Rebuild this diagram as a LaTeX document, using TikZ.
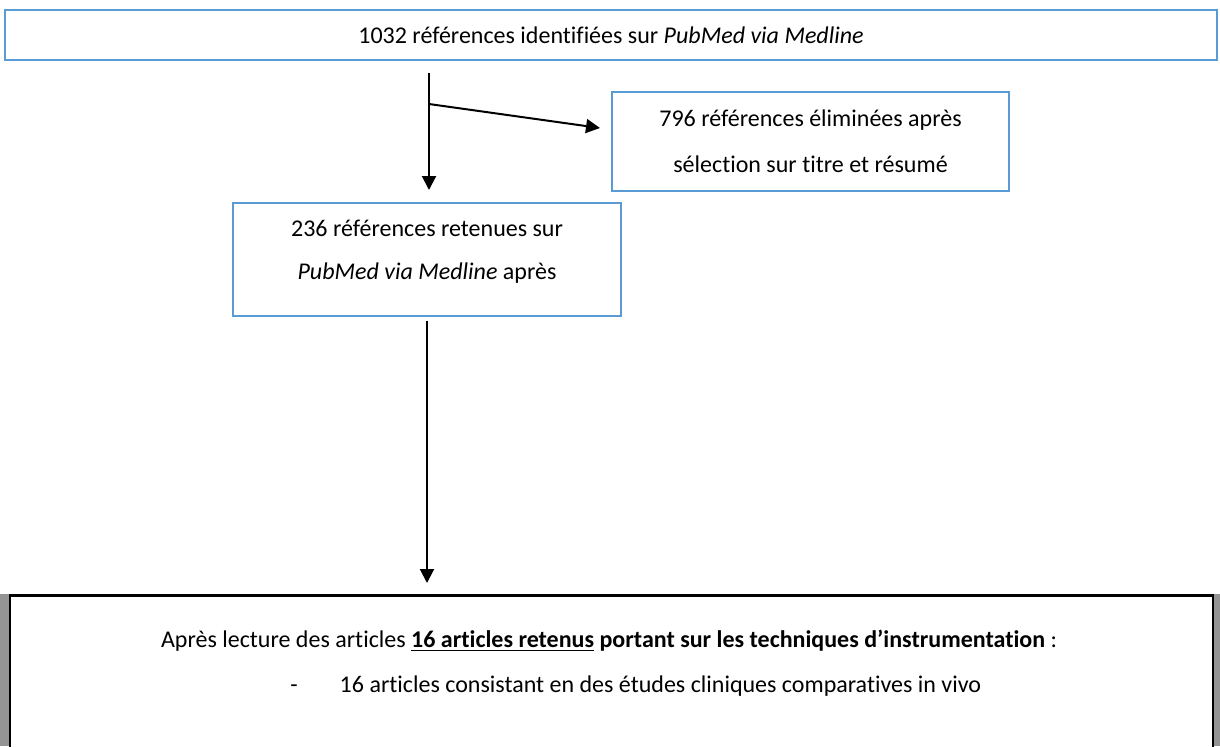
\documentclass[tikz,border=0pt]{standalone}
\usepackage{fontspec}
\setmainfont{Carlito}[Ligatures={TeX,NoCommon}]
\usetikzlibrary{arrows.meta,positioning}
\definecolor{BoxBlue}{HTML}{5B9BD5}
\colorlet{ShadowGray}{black!42}

\begin{document}
\begin{tikzpicture}[x=0.5pt,y=-0.5pt,
    bluebox/.style={draw=BoxBlue,line width=1pt,align=center,inner sep=0pt,
        font=\fontsize{12}{23}\selectfont},
    flow/.style={line width=1pt,-{Triangle[length=7pt,width=7pt]}}]
  \clip (0,0) rectangle (1220,746);
%  boxes
  \node[bluebox,minimum width=606pt,minimum height=25pt] (refs) at (611,35)
    {1032 références identifiées sur \textit{PubMed via Medline}};
  \node[bluebox,minimum width=198.5pt,minimum height=49.5pt] (removed) at (810.5,141.5)
    {796 références éliminées après\\sélection sur titre et résumé};
  \node[bluebox,minimum width=194pt,minimum height=56.5pt,
        font=\fontsize{12}{21.5}\selectfont] (kept) at (427,259.5) {};
  \node[inner sep=0pt,align=center,font=\fontsize{12}{21.5}\selectfont]
    (keptText) at (427,251.5)
    {236 références retenues sur\\\textit{PubMed via Medline} après};

%  final box
  \fill[ShadowGray] (0,594) rectangle (9,746);
  \fill[ShadowGray] (1214,594) rectangle (1220,746);
  \node[draw=black,line width=1.3pt,minimum width=601.5pt,minimum height=100pt,
        anchor=north,inner sep=0pt] (final) at (611.5,594) {};
  \node[inner sep=0pt,font=\fontsize{12}{22.5}\selectfont] (lecture) at (609,641)
    {Après lecture des articles \underline{\textbf{16 articles retenus}} \textbf{portant sur les techniques d’instrumentation} :};
  \node[inner sep=0pt,anchor=west,font=\fontsize{12}{22.5}\selectfont] (etudes) at (290,686)
    {-\hspace{21pt}16 articles consistant en des études cliniques comparatives in vivo};

%  arrows
  \coordinate (start) at (429,73);
  \coordinate (split) at (429,104);
  \coordinate (tip) at (600,128);
  \draw[flow,shorten >=6pt] (start) -- (start |- kept.north);
  \draw[flow] (split) -- (tip);
  \draw[flow,shorten <=2pt,shorten >=5.5pt] (kept.south) -- (kept.south |- final.north);
\end{tikzpicture}
\end{document}
